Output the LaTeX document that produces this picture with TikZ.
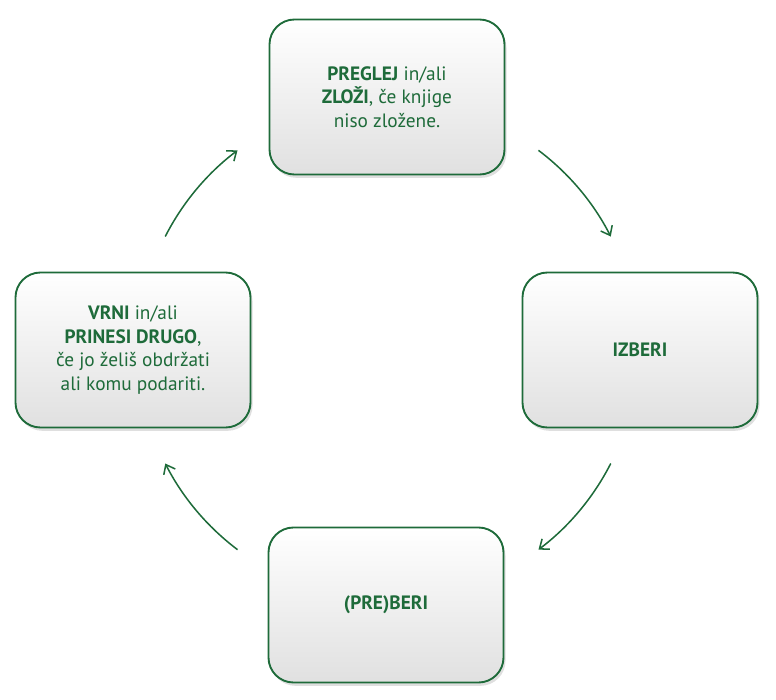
\documentclass[tikz,border=0pt]{standalone}
\usepackage{fontspec}
\setmainfont{PT Sans}
\usetikzlibrary{shadows,arrows.meta}
\definecolor{StepGreen}{HTML}{1E6B3A}
\tikzset{
  stepbox/.style={draw=StepGreen, line width=1.6pt, rounded corners=0.75cm,
    top color=white, bottom color=black!12, minimum width=7.05cm,
    minimum height=4.65cm, align=center, text=StepGreen,
    font=\fontsize{16.5}{20}\selectfont,
    drop shadow={shadow xshift=0.06cm, shadow yshift=-0.1cm, opacity=0.25}},
  cycarrow/.style={StepGreen, line width=1.3pt, ->, >={Straight Barb[length=7pt,width=11pt]}}
}
\begin{document}
\begin{tikzpicture}[x=0.03cm, y=-0.03cm]
\useasboundingbox (0,0) rectangle (776,700);

% boxes
\node[stepbox] (check) at (387,97) {\textbf{PREGLEJ} in/ali\\\textbf{ZLOŽI}, če knjige\\niso zložene.};
\node[stepbox] (choose) at (640,350) {\textbf{IZBERI}};
\node[stepbox] (read) at (386,605) {\textbf{(PRE)BERI}};
\node[stepbox] (back) at (133,350) {\textbf{VRNI} in/ali\\\textbf{PRINESI DRUGO},\\če jo želiš obdržati\\ali komu podariti.};

% arrows
\coordinate (c) at (388,350);
\draw[cycarrow] (c) ++({250*cos(53)},{-250*sin(53)}) coordinate (a1) arc[start angle=-53, end angle=-27, radius=250] coordinate (b1);
\draw[cycarrow] (c) ++({250*cos(-27)},{-250*sin(-27)}) coordinate (a2) arc[start angle=27, end angle=53, radius=250] coordinate (b2);
\draw[cycarrow] (c) ++({250*cos(-127)},{-250*sin(-127)}) coordinate (a3) arc[start angle=127, end angle=153, radius=250] coordinate (b3);
\draw[cycarrow] (c) ++({250*cos(153)},{-250*sin(153)}) coordinate (a4) arc[start angle=-153, end angle=-127, radius=250] coordinate (b4);
\end{tikzpicture}
\end{document}
